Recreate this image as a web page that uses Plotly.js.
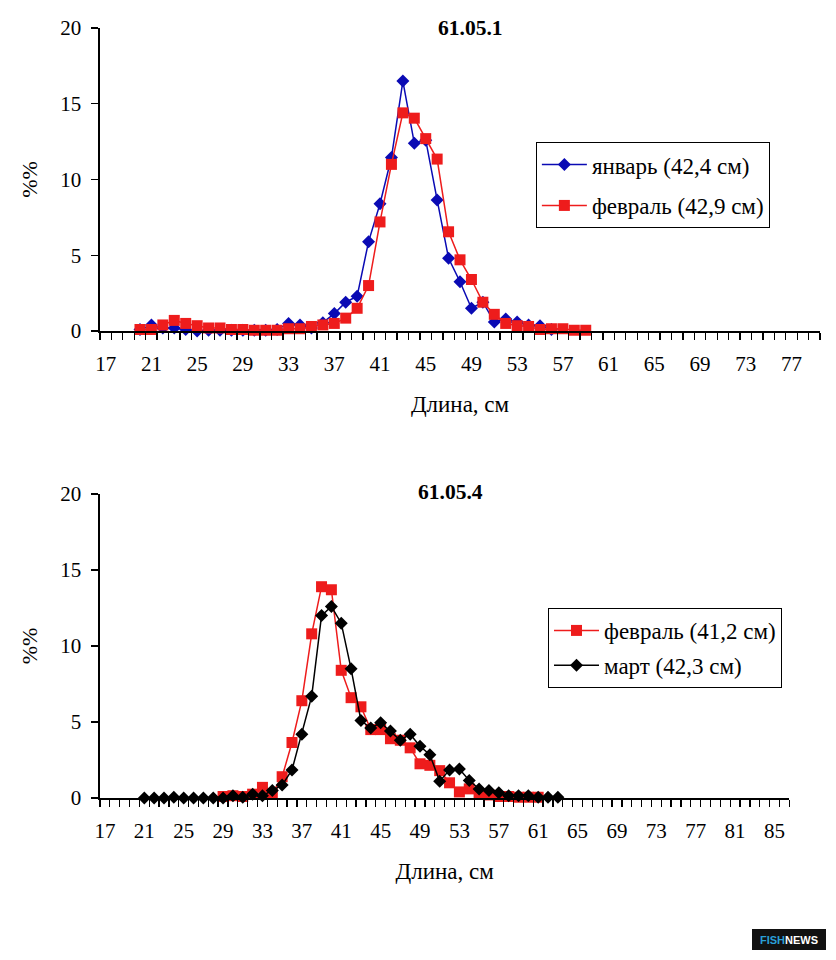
<!DOCTYPE html>
<html>
<head>
<meta charset="utf-8">
<script src="https://cdn.plot.ly/plotly-3.0.1.min.js"></script>
<style>
  html, body { margin: 0; padding: 0; background: #fff; }
  #plot { width: 836px; height: 960px; }
</style>
</head>
<body>
<div id="plot"></div>
<script>
// 61.05.1 : length classes and shares, %
var top_jan_x = [20,21,22,23,24,25,26,27,28,29,30,31,32,33,34,35,36,37,38,39,40,
                 41,42,43,44,45,46,47,48,49,50,51,52,53,54,55,56];
var top_jan_y = [0.1,0.4,0.2,0.2,0.1,0.0,0.05,0.05,0.05,0.05,0.05,0.05,0.1,0.5,0.4,0.2,0.55,1.15,1.9,2.3,5.9,
                 8.4,11.45,16.5,12.4,12.6,8.65,4.8,3.25,1.5,1.9,0.6,0.8,0.6,0.4,0.35,0.1];
var top_feb_x = [20,21,22,23,24,25,26,27,28,29,30,31,32,33,34,35,36,37,38,39,40,
                 41,42,43,44,45,46,47,48,49,50,51,52,53,54,55,56,57,58,59];
var top_feb_y = [0.1,0.1,0.4,0.7,0.5,0.35,0.2,0.2,0.1,0.1,0.05,0.05,0.05,0.15,0.15,0.3,0.4,0.5,0.85,1.5,3.0,
                 7.2,11.0,14.4,14.05,12.7,11.35,6.55,4.7,3.4,1.9,1.1,0.5,0.35,0.3,0.1,0.15,0.15,0.05,0.05];

// 61.05.4
var bot_feb_x = [29,30,31,32,33,34,35,36,37,38,39,40,41,42,43,44,45,46,47,48,49,50,
                 51,52,53,54,55,56,57,58,59,60,61];
var bot_feb_y = [0.1,0.15,0.1,0.25,0.7,0.3,1.4,3.65,6.4,10.8,13.9,13.7,8.4,6.6,6.0,4.5,4.5,3.9,3.8,3.3,2.25,2.15,
                 1.8,1.0,0.4,0.6,0.25,0.2,0.1,0.1,0.05,0.05,0.05];
var bot_mar_x = [21,22,23,24,25,26,27,28,29,30,31,32,33,34,35,36,37,38,39,40,41,42,
                 43,44,45,46,47,48,49,50,51,52,53,54,55,56,57,58,59,60,61,62,63];
var bot_mar_y = [0,0,0,0.05,0,0,0,0,0,0.15,0.05,0.25,0.15,0.5,0.85,1.85,4.2,6.7,12.0,12.6,11.5,8.5,
                 5.1,4.6,4.95,4.4,3.8,4.2,3.4,2.85,1.1,1.85,1.9,1.15,0.6,0.5,0.35,0.15,0.15,0.15,0.05,0.05,0.05];

var top_labels = [17,21,25,29,33,37,41,45,49,53,57,61,65,69,73,77];
var bot_labels = [17,21,25,29,33,37,41,45,49,53,57,61,65,69,73,77,81,85];
var y_ticks = [0,5,10,15,20];

var serif = 'Liberation Serif, DejaVu Serif, serif';
var blue = '#0a0ab4', red = '#ee1c1c', black = '#000000';

function series(x, y, name, color, symbol, size, xa, ya, leg, grp) {
  return {
    x: x, y: y, name: name, type: 'scatter', mode: 'lines+markers',
    xaxis: xa, yaxis: ya, legend: leg, legendgroup: grp, cliponaxis: false,
    line: {color: color, width: 1.5},
    marker: {color: color, symbol: symbol, size: size, line: {width: 0}}
  };
}

var traces = [
  series(top_jan_x, top_jan_y, 'январь (42,4 см)', blue, 'diamond', 10, 'x', 'y', 'legend', 'a'),
  series(top_feb_x, top_feb_y, 'февраль (42,9 см)', red, 'square', 11, 'x', 'y', 'legend', 'b'),
  series(bot_feb_x, bot_feb_y, 'февраль (41,2 см)', red, 'square', 11, 'x2', 'y2', 'legend2', 'c'),
  series(bot_mar_x, bot_mar_y, 'март (42,3 см)', black, 'diamond', 10, 'x2', 'y2', 'legend2', 'd')
];

function xaxis(range, labels, domain, anchor) {
  return {
    domain: domain, anchor: anchor, range: range, automargin: false,
    tickmode: 'array', tickvals: labels, ticktext: labels.map(String),
    ticks: '', ticklabelstandoff: 13,
    minor: {tickmode: 'linear', tick0: 16.5, dtick: 1, ticks: 'outside', ticklen: 7, tickcolor: '#000', tickwidth: 1.3},
    showline: true, linecolor: '#000', linewidth: 1.5, showgrid: false, zeroline: false,
    tickfont: {family: serif, size: 21, color: '#000'},
    title: {text: 'Длина, см', font: {family: serif, size: 23, color: '#000'}, standoff: 21}
  };
}
function yaxis(domain, anchor) {
  return {
    domain: domain, anchor: anchor, range: [0, 20], automargin: false,
    tickmode: 'array', tickvals: y_ticks, ticks: 'outside', ticklen: 7, tickwidth: 1.3, tickcolor: '#000',
    ticklabelstandoff: 6,
    showline: true, linecolor: '#000', linewidth: 1.5, showgrid: false, zeroline: false,
    tickfont: {family: serif, size: 21, color: '#000'},
    title: {text: '%%', font: {family: serif, size: 22, color: '#000'}, standoff: 16}
  };
}

var legendStyle = function(x, y, gap) {
  return {
    x: x, y: y, xanchor: 'left', yanchor: 'top',
    bgcolor: '#fff', bordercolor: '#000', borderwidth: 1,
    traceorder: 'grouped', tracegroupgap: gap, itemwidth: 45, entrywidth: 230,
    font: {family: serif, size: 23, color: '#000'}
  };
};

var layout = {
  width: 836, height: 960,
  margin: {l: 0, r: 0, t: 0, b: 0},
  paper_bgcolor: '#fff', plot_bgcolor: '#fff',
  showlegend: true,
  xaxis: xaxis([16.5, 79.5], top_labels, [0.1196, 0.9809], 'y'),
  yaxis: yaxis([0.6552, 0.9708], 'x'),
  xaxis2: xaxis([16.5, 86.5], bot_labels, [0.1196, 0.9441], 'y2'),
  yaxis2: yaxis([0.16875, 0.48542], 'x2'),
  legend: legendStyle(0.641, 0.852, 8),
  legend2: legendStyle(0.6555, 0.3667, 2),
  annotations: [
    {text: '<b>61.05.1</b>', xref: 'paper', yref: 'paper', x: 0.563, y: 1 - 28/960,
     xanchor: 'center', yanchor: 'middle', showarrow: false, font: {family: serif, size: 21.5, color: '#000'}},
    {text: '<b>61.05.4</b>', xref: 'paper', yref: 'paper', x: 0.539, y: 1 - 492/960,
     xanchor: 'center', yanchor: 'middle', showarrow: false, font: {family: serif, size: 21.5, color: '#000'}},
    {text: '<span style="color:#2a9fd6">FISH</span>NEWS', xref: 'paper', yref: 'paper',
     x: 789/836, y: 1 - 940/960, xanchor: 'center', yanchor: 'middle', showarrow: false,
     font: {family: 'Liberation Sans, Arial, sans-serif', size: 11, color: '#fff', weight: 'bold'}}
  ],
  shapes: [
    {type: 'rect', xref: 'paper', yref: 'paper', x0: 752/836, x1: 826/836, y0: 1 - 950/960, y1: 1 - 929/960,
     fillcolor: '#111', line: {width: 0}, layer: 'below'}
  ]
};

Plotly.newPlot('plot', traces, layout, {displayModeBar: false, staticPlot: true});
</script>
</body>
</html>
